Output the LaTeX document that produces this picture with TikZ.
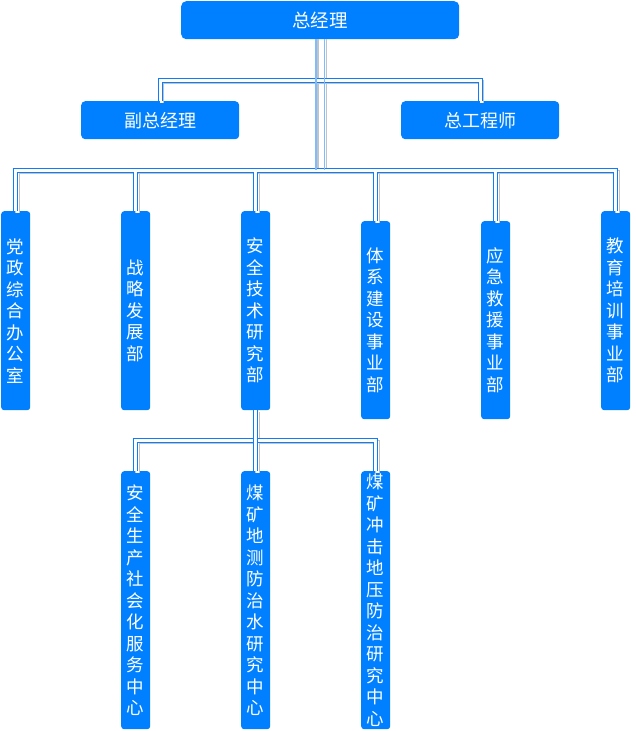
\documentclass[tikz,border=0pt]{standalone}
\usepackage{fontspec}
\newfontfamily\cjk{Noto Sans CJK SC}
\definecolor{boxblue}{RGB}{0,128,255}
\definecolor{linkblue}{RGB}{15,125,250}
\definecolor{trunkblue}{RGB}{125,188,255}
\definecolor{shadowgrey}{RGB}{195,195,195}
\begin{document}
\begin{tikzpicture}[x=1pt,y=-1pt,
  box/.style={fill=boxblue, rounded corners=4pt, inner sep=0pt, text=white, align=center, anchor=north west},
  hbox/.style={box, minimum width=158pt, minimum height=38pt, font=\cjk\fontsize{18}{22}\selectfont},
  vbox/.style={box, rounded corners=3pt, minimum width=29pt, font=\cjk\fontsize{17.5}{21.5}\selectfont},
  link/.style={draw=linkblue, line width=0.9pt, double=white, double distance=2.9pt},
  linkshadow/.style={draw=shadowgrey, line width=0.9pt, double=white, double distance=2.9pt, transform canvas={xshift=1.7pt,yshift=-1.7pt}},
  trunk/.style={draw=trunkblue, line width=1.6pt},
  trunkshadow/.style={draw=shadowgrey, line width=1.3pt}
]
\useasboundingbox (0,0) rectangle (635,731);

% nodes
\node[box, minimum width=278pt, minimum height=38pt, rounded corners=5pt, font=\cjk\fontsize{18.5}{22}\selectfont] (gm) at (181,1) {总经理};
\node[hbox] (vp) at (81,101) {副总经理};
\node[hbox] (ce) at (401,101) {总工程师};

\node[vbox, minimum height=199pt] (d1) at (1,211) {党\\政\\综\\合\\办\\公\\室};
\node[vbox, minimum height=199pt] (d2) at (121,211) {战\\略\\发\\展\\部};
\node[vbox, minimum height=199pt] (d3) at (241,211) {安\\全\\技\\术\\研\\究\\部};
\node[vbox, minimum height=198pt] (d4) at (361,221) {体\\系\\建\\设\\事\\业\\部};
\node[vbox, minimum height=198pt] (d5) at (481,221) {应\\急\\救\\援\\事\\业\\部};
\node[vbox, minimum height=199pt] (d6) at (601,211) {教\\育\\培\\训\\事\\业\\部};

\node[vbox, minimum height=258pt] (e1) at (121,471) {安\\全\\生\\产\\社\\会\\化\\服\\务\\中\\心};
\node[vbox, minimum height=258pt] (e2) at (241,471) {煤\\矿\\地\\测\\防\\治\\水\\研\\究\\中\\心};
\node[vbox, minimum height=258pt] (e3) at (361,471) {煤\\矿\\冲\\击\\地\\压\\防\\治\\研\\究\\中\\心};

% bus coordinates
\coordinate (b1) at (320,80.3);
\coordinate (b2) at (320,170.3);
\coordinate (b2l) at (320,172.3);
\coordinate (b3) at (255.5,440.3);

% shadows
\draw[linkshadow] (vp.north) |- (b1) -| (ce.north);
\draw[linkshadow] (d1.north) |- (b2) -| (d6.north);
\foreach \n in {d2,d3,d4,d5} \draw[linkshadow] (\n.north |- b2l) -- (\n.north);
\draw[linkshadow] (e1.north) |- (b3) -| (e3.north);
\draw[linkshadow] (d3.south) -- (e2.north);
\draw[trunkshadow, transform canvas={xshift=-2.2pt}] (gm.south) -- (gm.south |- b2);
\draw[trunkshadow, transform canvas={xshift=6.4pt}] (gm.south) -- (gm.south |- b2);

% links
\draw[link] (vp.north) |- (b1) -| (ce.north);
\draw[link] (d1.north) |- (b2) -| (d6.north);
\foreach \n in {d2,d3,d4,d5} \draw[link] (\n.north |- b2l) -- (\n.north);
\draw[link] (e1.north) |- (b3) -| (e3.north);
\draw[link] (d3.south) -- (e2.north);
\draw[trunk, transform canvas={xshift=-4.3pt}] (gm.south) -- (gm.south |- b2);
\draw[trunk, transform canvas={xshift=4.3pt}] (gm.south) -- (gm.south |- b2);
\end{tikzpicture}
\end{document}
